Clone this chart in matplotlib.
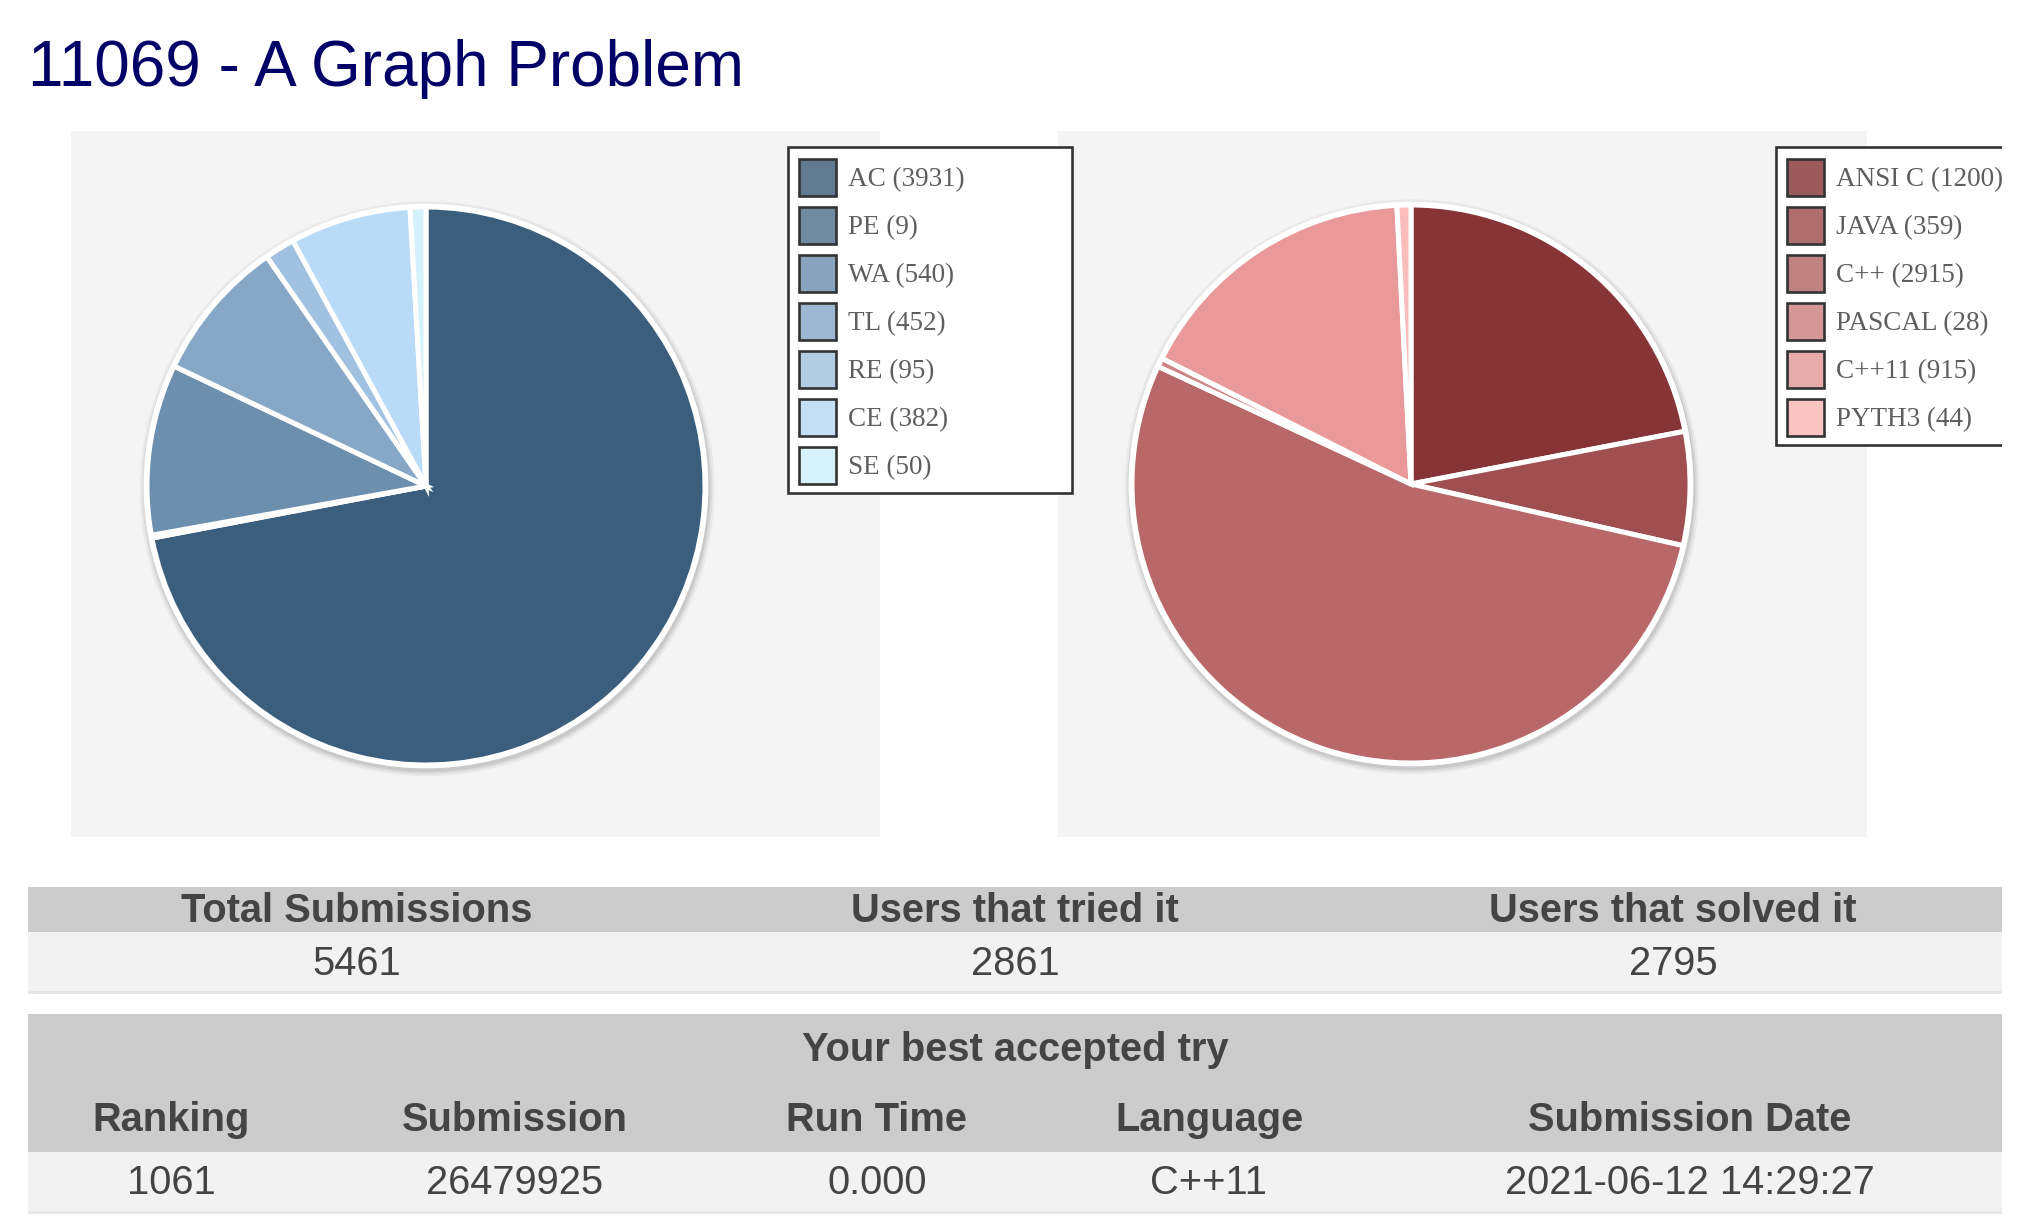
import matplotlib
matplotlib.use('agg')
import matplotlib.pyplot as plt
from matplotlib.patches import Rectangle, Circle

W, H = 2020, 1230

title = '11069 - A Graph Problem'

verdicts = ['AC', 'PE', 'WA', 'TL', 'RE', 'CE', 'SE']
verdict_counts = [3931, 9, 540, 452, 95, 382, 50]
verdict_colors = ['#3b5e7c', '#4f718f', '#6d8fae', '#86a8c6', '#a0c2e0', '#b9dbf7', '#d3f2fc']
verdict_swatches = ['#5f7a92', '#6f8ba4', '#87a4bf', '#9cb7d1', '#b0cce4', '#c4e0f7', '#d6f3fb']

languages = ['ANSI C', 'JAVA', 'C++', 'PASCAL', 'C++11', 'PYTH3']
language_counts = [1200, 359, 2915, 28, 915, 44]
language_colors = ['#873437', '#9f4f50', '#b86868', '#d08383', '#e99999', '#fbbcbc']
language_swatches = ['#9b5a5c', '#ae6e6e', '#c08181', '#d49696', '#e8abab', '#fcc3c3']

stat_headers = ['Total Submissions', 'Users that tried it', 'Users that solved it']
stat_values = ['5461', '2861', '2795']

best_title = 'Your best accepted try'
best_headers = ['Ranking', 'Submission', 'Run Time', 'Language', 'Submission Date']
best_values = ['1061', '26479925', '0.000', 'C++11', '2021-06-12 14:29:27']

SANS = 'Liberation Sans'
SERIF = 'Liberation Serif'
TXT = '#444444'
FS = 28.7

fig = plt.figure(figsize=(W / 100, H / 100), dpi=100)
fig.patch.set_facecolor('white')

# pixel-coordinate overlay for panels, tables and legends
bg = fig.add_axes([0, 0, 1, 1])
bg.set_xlim(0, W)
bg.set_ylim(H, 0)
bg.axis('off')

bg.text(28, 86, title, fontsize=46, color='#000066', family=SANS, va='baseline')

# chart panels
for x0 in (71, 1058):
    bg.add_patch(Rectangle((x0, 131), 809, 706, facecolor='#f4f4f4', edgecolor='none'))


def draw_pie(cx, cy, counts, colors):
    R = 279.0
    pad = 1.1
    ax = fig.add_axes([(cx - R * pad) / W, (H - cy - R * pad) / H,
                       2 * R * pad / W, 2 * R * pad / H])
    # soft shadow + white rim
    for dr, a in ((0.030, 0.12), (0.022, 0.18), (0.015, 0.25)):
        ax.add_patch(Circle((0.004, -0.010), 1 + dr, facecolor='#9a9a9a',
                            alpha=a, edgecolor='none', zorder=0))
    ax.add_patch(Circle((0, 0), 1.012, facecolor='white', edgecolor='none', zorder=0.5))
    ax.pie(counts, colors=colors, startangle=90, counterclock=False, radius=1,
           wedgeprops=dict(edgecolor='white', linewidth=3.6))
    ax.set_xlim(-pad, pad)
    ax.set_ylim(-pad, pad)
    ax.set_aspect('equal')
    ax.axis('off')
    return ax


draw_pie(426, 486, verdict_counts, verdict_colors)
draw_pie(1411, 484, language_counts, language_colors)


def draw_legend(x0, y0, w, h, labels, counts, swatches, open_right=False):
    lw = 1.9
    bg.add_patch(Rectangle((x0, y0), w, h, facecolor='white', edgecolor='none', zorder=3))
    if open_right:
        bg.plot([x0 + w, x0, x0, x0 + w], [y0, y0, y0 + h, y0 + h],
                color='#333333', lw=lw, zorder=4, solid_joinstyle='miter')
    else:
        bg.add_patch(Rectangle((x0, y0), w, h, facecolor='none', edgecolor='#333333',
                               lw=lw, zorder=4, joinstyle='miter'))
    for i, (lab, n, c) in enumerate(zip(labels, counts, swatches)):
        yc = y0 + 30 + 48 * i
        bg.add_patch(Rectangle((x0 + 11, yc - 18.5), 37, 37, facecolor=c,
                               edgecolor='#333333', lw=lw, zorder=4, joinstyle='miter'))
        bg.text(x0 + 60, yc + 9, f'{lab} ({n})', fontsize=19.5, family=SERIF,
                color='#5e5e5e', va='baseline', ha='left', zorder=5)


draw_legend(788, 147, 284, 346, verdicts, verdict_counts, verdict_swatches)
draw_legend(1776, 147, 226, 298, languages, language_counts, language_swatches,
            open_right=True)

# statistics table
xl, xr = 28, 2002
tw = xr - xl
bg.add_patch(Rectangle((xl, 887), tw, 45, facecolor='#cccccc', edgecolor='none'))
bg.add_patch(Rectangle((xl, 932), tw, 59, facecolor='#f2f2f2', edgecolor='none'))
bg.add_patch(Rectangle((xl, 991), tw, 3, facecolor='#e6e6e6', edgecolor='none'))
for i, (hd, v) in enumerate(zip(stat_headers, stat_values)):
    xc = xl + (i + 0.5) * tw / 3
    bg.text(xc, 922, hd, fontsize=FS, family=SANS, weight='bold', color=TXT,
            ha='center', va='baseline')
    bg.text(xc, 975, v, fontsize=FS, family=SANS, color=TXT, ha='center', va='baseline')

# best try table
bg.add_patch(Rectangle((xl, 1014), tw, 138, facecolor='#cccccc', edgecolor='none'))
bg.add_patch(Rectangle((xl, 1152), tw, 59, facecolor='#f2f2f2', edgecolor='none'))
bg.add_patch(Rectangle((xl, 1211), tw, 3, facecolor='#e6e6e6', edgecolor='none'))
bg.text(xl + tw / 2, 1061, best_title, fontsize=FS, family=SANS, weight='bold',
        color=TXT, ha='center', va='baseline')
col_x = [171, 515, 877, 1209, 1690]
for xc, hd, v in zip(col_x, best_headers, best_values):
    bg.text(xc, 1131, hd, fontsize=FS, family=SANS, weight='bold', color=TXT,
            ha='center', va='baseline')
    bg.text(xc, 1194, v, fontsize=FS, family=SANS, color=TXT, ha='center', va='baseline')

# page content is cut at the right edge
bg.add_patch(Rectangle((2002, 0), W - 2002, H, facecolor='white', edgecolor='none', zorder=10))

fig.savefig('out.png', dpi=100, facecolor='white')
